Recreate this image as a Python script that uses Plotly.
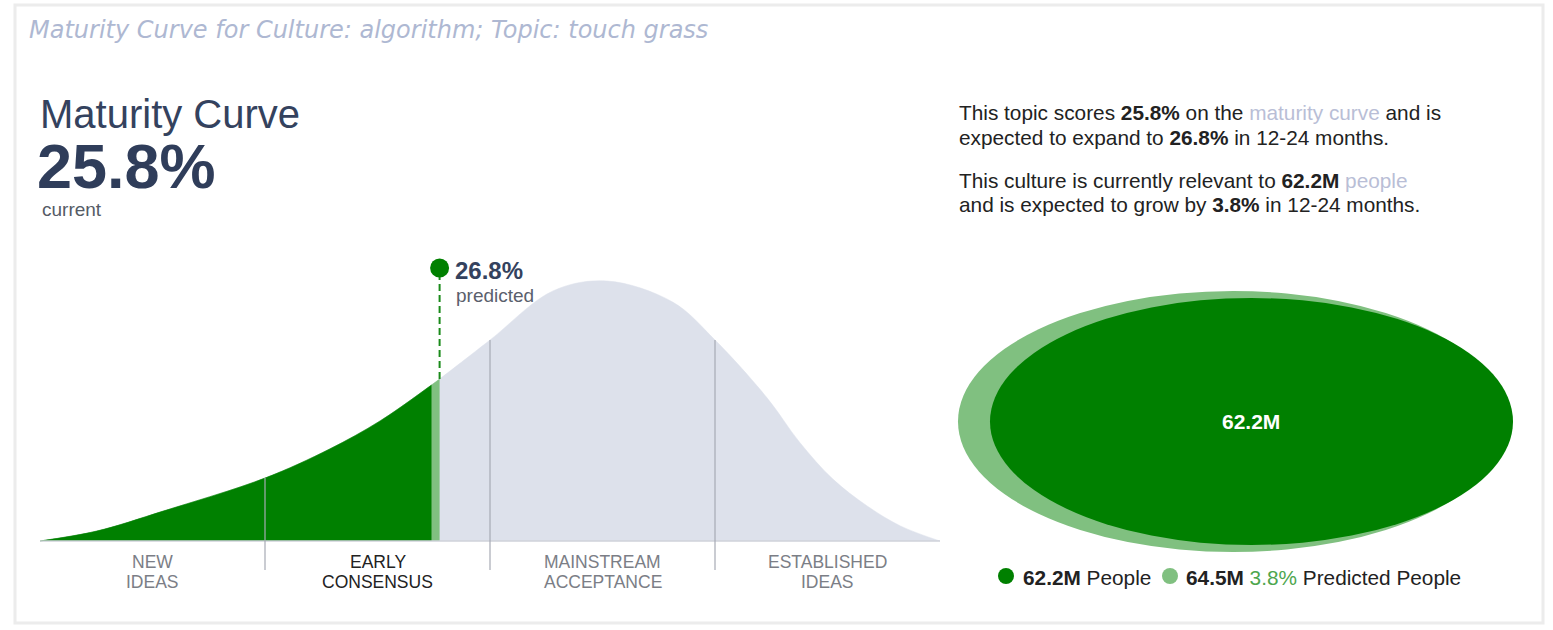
import plotly.graph_objects as go

# ---------------- data ----------------
title_text = "Maturity Curve for Culture: algorithm; Topic: touch grass"
current_score = 25.8          # %
predicted_score = 26.8        # %
people_current = 62.2         # M
people_predicted = 64.5       # M
people_growth = 3.8           # %

segment_line1 = ["NEW", "EARLY", "MAINSTREAM", "ESTABLISHED"]
segment_line2 = ["IDEAS", "CONSENSUS", "ACCEPTANCE", "IDEAS"]
segment_bounds = [0, 25, 50, 75, 100]
active_segment = 1

# curve: position along curve (0-100) and relative height (peak = 100)
curve_pos = [0, 6.3, 13.7, 25, 32.2, 37.8, 43.5, 44.4, 50, 57, 63, 70.3, 75, 80.8, 84.4, 88.1, 91.9, 95.6, 100]
curve_h = [0, 3.8, 11.5, 24.2, 35.4, 46.2, 60.0, 62.3, 77.3, 96.2, 100, 91.9, 77.3, 55.0, 38.0, 23.8, 13.5, 5.8, 0]
current_pos = 43.5
predicted_pos = 44.4
marker_height = 105

# ---------------- layout helpers ----------------
W, H = 1553, 630
def px(x):
    return x / W
def py(y):
    return 1 - y / H

DARK_GREEN = "#008000"
LIGHT_GREEN = "#80c080"
CURVE_GRAY = "#dde1eb"
SLATE = "#34425e"
FONT = "Arial, 'Liberation Sans', sans-serif"
SMOOTH = 1.0

h_at = dict(zip(curve_pos, curve_h))

fig = go.Figure()

# full curve (gray)
fig.add_trace(go.Scatter(x=curve_pos, y=curve_h, mode="lines", line=dict(color=CURVE_GRAY, width=0.5, shape="spline", smoothing=SMOOTH),
                         fill="tozeroy", fillcolor=CURVE_GRAY, hoverinfo="skip", showlegend=False))
# predicted strip (light green)
xs = [p for p in curve_pos if p <= predicted_pos]
ys = [h_at[p] for p in xs]
fig.add_trace(go.Scatter(x=xs, y=ys, mode="lines", line=dict(color=LIGHT_GREEN, width=0.5, shape="spline", smoothing=SMOOTH),
                         fill="tozeroy", fillcolor=LIGHT_GREEN, hoverinfo="skip", showlegend=False))
# current (dark green)
xs = [p for p in curve_pos if p <= current_pos]
ys = [h_at[p] for p in xs]
fig.add_trace(go.Scatter(x=xs, y=ys, mode="lines", line=dict(color=DARK_GREEN, width=0.5, shape="spline", smoothing=SMOOTH),
                         fill="tozeroy", fillcolor=DARK_GREEN, hoverinfo="skip", showlegend=False))

# baseline
fig.add_trace(go.Scatter(x=[0, 100], y=[0, 0], mode="lines", line=dict(color="#cfd2da", width=1.5),
                         hoverinfo="skip", showlegend=False))
# segment dividers
for b in segment_bounds[1:-1]:
    fig.add_trace(go.Scatter(x=[b, b], y=[-11.2, h_at[b]], mode="lines", line=dict(color="#a7aab4", width=1.2),
                             hoverinfo="skip", showlegend=False))

# predicted marker + dashed line
fig.add_trace(go.Scatter(x=[predicted_pos, predicted_pos], y=[h_at[predicted_pos], marker_height], mode="lines",
                         line=dict(color="#1a8a1a", width=2, dash="7px,4px"), hoverinfo="skip", showlegend=False))
fig.add_trace(go.Scatter(x=[predicted_pos], y=[marker_height], mode="markers", marker=dict(color=DARK_GREEN, size=19),
                         hoverinfo="skip", showlegend=False, cliponaxis=False))

# ---------------- right panel: ellipses ----------------
ellipses = [
    (people_predicted, LIGHT_GREEN, 958, 291, 1508, 552),
    (people_current, DARK_GREEN, 990, 298, 1513, 545),
]
shapes = []
for val, col, x0, y0, x1, y1 in ellipses:
    shapes.append(dict(type="circle", xref="x2", yref="y2", x0=x0, y0=y0, x1=x1, y1=y1,
                       fillcolor=col, line=dict(width=0), layer="below"))

# legend dots
fig.add_trace(go.Scatter(x=[1006, 1170], y=[576, 576], xaxis="x2", yaxis="y2", mode="markers",
                         marker=dict(color=[DARK_GREEN, LIGHT_GREEN], size=16), hoverinfo="skip",
                         showlegend=False, cliponaxis=False))

# card border
shapes.append(dict(type="rect", xref="paper", yref="paper", x0=px(15), x1=px(1543), y0=py(623), y1=py(5),
                   line=dict(color="#ececec", width=3), fillcolor="rgba(0,0,0,0)", layer="below"))

ann = []
def add(text, x, y, size, color="#222222", xanchor="left", yanchor="middle", family=FONT, align="left", **kw):
    ann.append(dict(text=text, x=px(x), y=py(y), xref="paper", yref="paper", showarrow=False,
                    xanchor=xanchor, yanchor=yanchor, align=align,
                    font=dict(size=size, color=color, family=family, **kw)))

add(title_text, 27, 30, 24, color="#aeb8d2", family="'DejaVu Sans', sans-serif", weight=200, style="italic")
add("Maturity Curve", 38, 114, 40, color=SLATE)
add(f"<b>{current_score}%</b>", 35, 166, 63, color="#2f3d5a")
add("current", 40, 210, 19, color="#555b66")

add(f"<b>{predicted_score}%</b>", 453, 270, 24, color="#34425e")
add("predicted", 454, 295, 19, color="#5a606c")

for i in range(len(segment_line1)):
    cx = (segment_bounds[i] + segment_bounds[i + 1]) / 2
    xp = 40 + cx / 100 * 900
    col = "#222222" if i == active_segment else "#7b7e86"
    add(segment_line1[i], xp, 562, 17.5, color=col, xanchor="center", align="center")
    add(segment_line2[i], xp, 582, 17.5, color=col, xanchor="center", align="center")

LIGHT = "#b9bed6"
TS = 20.8
add(f"This topic scores <b>{current_score}%</b> on the <span style='color:{LIGHT}'>maturity curve</span> and is", 957, 112, TS)
add(f"expected to expand to <b>{predicted_score}%</b> in 12-24 months.", 957, 137, TS)
add(f"This culture is currently relevant to <b>{people_current}M</b> <span style='color:{LIGHT}'>people</span>", 957, 180, TS)
add(f"and is expected to grow by <b>{people_growth}%</b> in 12-24 months.", 957, 205, TS)

add(f"<b>{people_current}M</b>", 1251, 421, 21, color="#ffffff", xanchor="center")

add(f"<b>{people_current}M</b> People", 1021, 577, TS)
add(f"<b>{people_predicted}M</b> <span style='color:#4ea64e'>{people_growth}%</span> Predicted People", 1184, 577, TS)

fig.update_layout(
    width=W, height=H, margin=dict(l=0, r=0, t=0, b=0),
    paper_bgcolor="white", plot_bgcolor="rgba(0,0,0,0)",
    xaxis=dict(domain=[px(40), px(940)], range=[0, 100], visible=False, fixedrange=True),
    yaxis=dict(domain=[py(575), py(255)], range=[-(575 - 541) / 2.6, (541 - 255) / 2.6], visible=False, fixedrange=True),
    xaxis2=dict(domain=[px(940), px(1540)], range=[940, 1540], visible=False, anchor="y2"),
    yaxis2=dict(domain=[py(600), py(260)], range=[600, 260], visible=False, anchor="x2"),
    shapes=shapes, annotations=ann, showlegend=False,
)

fig.write_html("out.html", config={"displayModeBar": False})
